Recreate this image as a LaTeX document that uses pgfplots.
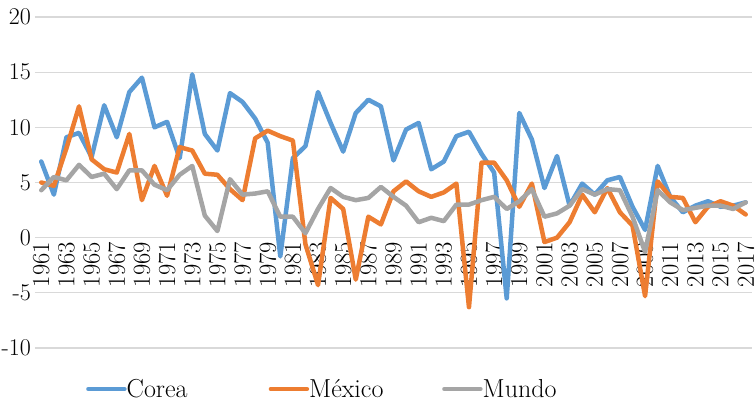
\documentclass[border=0pt]{standalone}
\usepackage{fontspec}
\usepackage{pgfplots}
\pgfplotsset{compat=1.18}
\usepackage{pgfplotstable}
\definecolor{corea}{HTML}{5B9BD5}
\definecolor{mexico}{HTML}{ED7D31}
\definecolor{mundo}{HTML}{A5A5A5}
\definecolor{gridgray}{HTML}{D9D9D9}
\pgfplotstableread{
year corea mexico mundo
1961 6.9 5.0 4.3
1962 3.9 4.7 5.5
1963 9.1 8.1 5.2
1964 9.5 11.9 6.6
1965 7.3 7.1 5.5
1966 12.0 6.2 5.8
1967 9.1 5.9 4.4
1968 13.2 9.4 6.1
1969 14.5 3.4 6.1
1970 10.0 6.5 4.8
1971 10.5 3.8 4.3
1972 7.2 8.2 5.7
1973 14.8 7.9 6.5
1974 9.4 5.8 2.0
1975 7.9 5.7 0.6
1976 13.1 4.4 5.3
1977 12.3 3.4 3.9
1978 10.8 9.0 4.0
1979 8.6 9.7 4.2
1980 -1.7 9.2 1.9
1981 7.2 8.8 1.9
1982 8.3 -0.6 0.4
1983 13.2 -4.3 2.6
1984 10.4 3.6 4.5
1985 7.8 2.6 3.7
1986 11.3 -3.8 3.4
1987 12.5 1.9 3.6
1988 11.9 1.2 4.6
1989 7.0 4.2 3.7
1990 9.8 5.1 2.9
1991 10.4 4.2 1.4
1992 6.2 3.7 1.8
1993 6.9 4.1 1.5
1994 9.2 4.9 3.0
1995 9.6 -6.3 3.0
1996 7.6 6.8 3.4
1997 5.9 6.8 3.7
1998 -5.5 5.2 2.6
1999 11.3 2.8 3.3
2000 8.9 4.9 4.4
2001 4.5 -0.4 1.9
2002 7.4 0.0 2.2
2003 2.9 1.4 2.9
2004 4.9 3.9 4.4
2005 3.9 2.3 3.9
2006 5.2 4.5 4.4
2007 5.5 2.3 4.3
2008 2.8 1.1 1.9
2009 0.7 -5.3 -1.3
2010 6.5 5.1 4.3
2011 3.7 3.7 3.2
2012 2.3 3.6 2.5
2013 2.9 1.4 2.7
2014 3.3 2.8 2.9
2015 2.8 3.3 2.9
2016 2.9 2.9 2.6
2017 3.2 2.1 3.2
}\datatable
\begin{document}
\begin{tikzpicture}
\path[use as bounding box] (0,0) rectangle (756pt,405pt);
\begin{axis}[
  at={(35pt,57pt)}, anchor=south west,
  scale only axis, width=717pt, height=331pt,
  xmin=1960.5, xmax=2017.5, ymin=-10, ymax=20,
  ytick={-10,-5,0,5,10,15,20},
  yticklabels={-10,-5,0,5,10,15,20},
  xtick={1961,1963,...,2017},
  xticklabels={1961,1963,1965,1967,1969,1971,1973,1975,1977,1979,1981,1983,1985,1987,1989,1991,1993,1995,1997,1999,2001,2003,2005,2007,2009,2011,2013,2015,2017},
  axis line style={draw=none},
  major tick length=0pt,
  ymajorgrids,
  grid style={draw=gridgray, line width=1.3pt},
  xticklabel style={rotate=90, anchor=east, inner sep=1pt, font=\fontsize{24.5}{24.5}\selectfont},
  xticklabel shift=-107pt,
  yticklabel style={anchor=east, inner sep=0pt, xshift=-4pt, font=\fontsize{24}{24}\selectfont},
  legend style={draw=none, fill=none, at={(0.0711,-0.124)}, anchor=west,
    legend columns=3, font=\fontsize{26}{26}\selectfont, inner sep=0pt,
    nodes={inner sep=0pt},
    /tikz/every even column/.append style={column sep=2pt}},
  legend image code/.code={\draw[#1, line cap=round] (2pt,0pt) -- (38pt,0pt);},
  every axis plot/.append style={line width=4.5pt, line join=round, line cap=round},
  clip=false,
]
\addplot[color=corea] table[x=year, y=corea] {\datatable};
\addlegendentry{\makebox[140pt][l]{Corea}}
\addplot[color=mexico] table[x=year, y=mexico] {\datatable};
\addlegendentry{\makebox[131pt][l]{México}}
\addplot[color=mundo] table[x=year, y=mundo] {\datatable};
\addlegendentry{Mundo}
\end{axis}
\end{tikzpicture}
\end{document}
